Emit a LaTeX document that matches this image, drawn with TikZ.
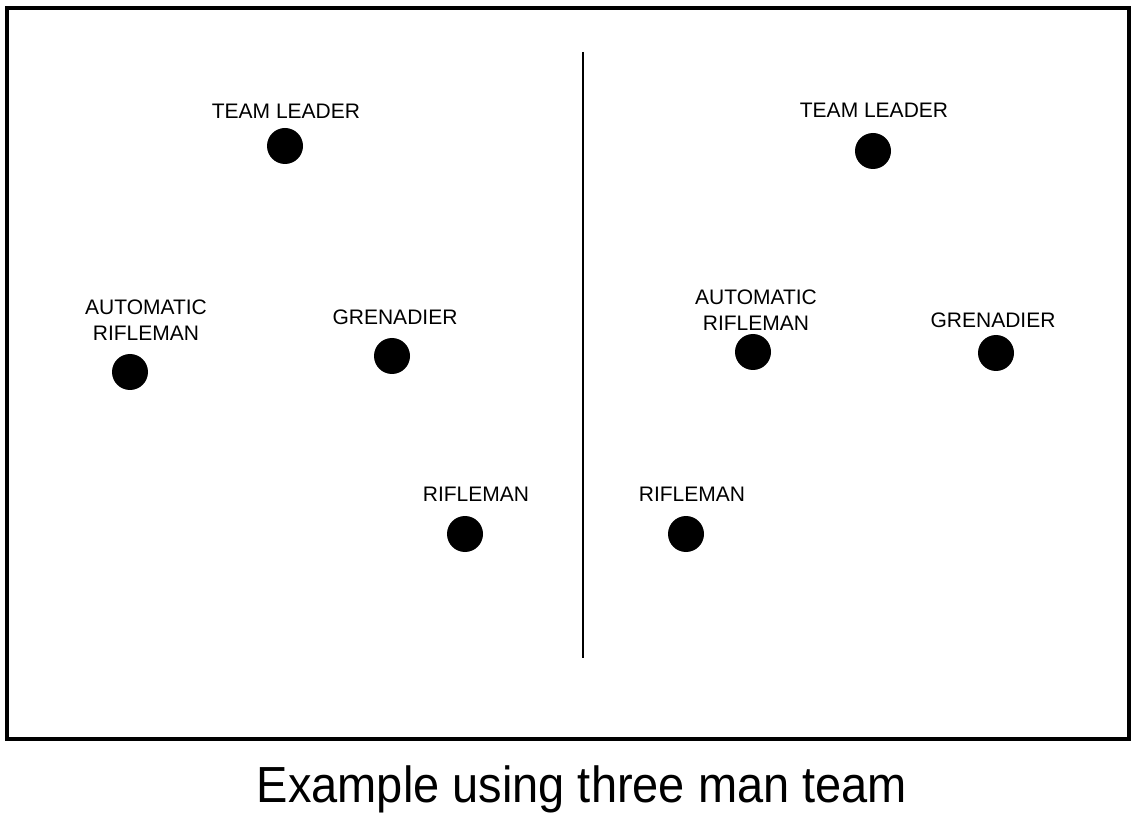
\documentclass[tikz,border=0pt]{standalone}
\usepackage{fontspec}
\setmainfont{Liberation Sans}
\begin{document}
\begin{tikzpicture}[x=1pt,y=-1pt,
  soldier/.style={circle,fill=black,minimum size=36pt,inner sep=0pt},
  lbl/.style={inner sep=0pt,align=center,font=\fontsize{21}{26}\selectfont}]
\useasboundingbox (0,0) rectangle (1136,826);
\fill[white] (0,0) rectangle (1136,826);
\draw[line width=3.5pt] (7,8) rectangle (1129,739);
\coordinate (vtop) at (583,52);
\coordinate (vbot) at (583,658);
\draw[line width=2pt] (vtop) -- (vbot);
% left team
\node[soldier] (tl1) at (285,146) {};
\node[lbl] (tl1l) at (286,111) {TEAM LEADER};
\node[soldier] (ar1) at (130,372) {};
\node[lbl] (ar1l) at (146,320) {AUTOMATIC\\RIFLEMAN};
\node[soldier] (gr1) at (392,356) {};
\node[lbl] (gr1l) at (395,317) {GRENADIER};
\node[soldier] (rf1) at (465,534) {};
\node[lbl] (rf1l) at (476,494) {RIFLEMAN};
% right team
\node[soldier] (tl2) at (873,151) {};
\node[lbl] (tl2l) at (874,110) {TEAM LEADER};
\node[soldier] (ar2) at (753,352) {};
\node[lbl] (ar2l) at (756,310) {AUTOMATIC\\RIFLEMAN};
\node[soldier] (gr2) at (996,353) {};
\node[lbl] (gr2l) at (993,320) {GRENADIER};
\node[soldier] (rf2) at (686,534) {};
\node[lbl] (rf2l) at (692,494) {RIFLEMAN};
% caption
\node[inner sep=0pt,anchor=base] (cap) at (582,802) {\scalebox{1}[1.08]{\fontsize{47}{56}\selectfont Example using three man team}};
\end{tikzpicture}
\end{document}
